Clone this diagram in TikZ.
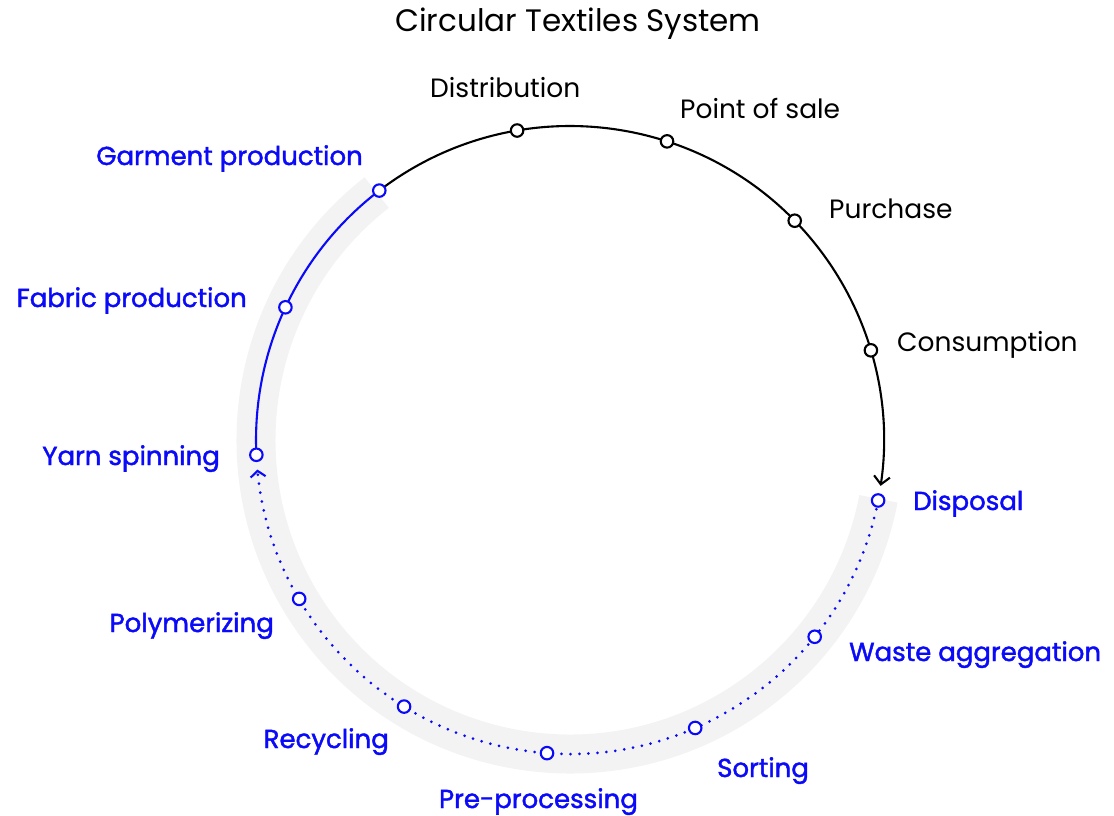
\documentclass[tikz,border=0pt]{standalone}
\usepackage{fontspec}
\setmainfont{Poppins}
\newfontfamily\medfont{Poppins}[FakeBold=1.6]
\usetikzlibrary{arrows.meta}
\definecolor{myblue}{RGB}{10,10,248}
\definecolor{bandgray}{RGB}{243,243,243}
\begin{document}
\begin{tikzpicture}[x=1pt,y=1pt,
  dotb/.style={circle,draw=black,fill=white,line width=2.1pt,minimum size=12.5pt,inner sep=0pt},
  dotu/.style={dotb,draw=myblue},
  lblk/.style={inner sep=0pt,text=black,font=\fontsize{26.5}{30}\selectfont},
  lblu/.style={inner sep=0pt,text=myblue,font=\medfont\fontsize{26}{30}\selectfont},
  ttl/.style={inner sep=0pt,text=black,font=\fontsize{31}{34}\selectfont},
  band/.style={line width=39pt,draw=bandgray},
  ring/.style={line width=2.1pt},
  dotline/.style={myblue,line width=3pt,dash pattern=on 0pt off 9pt,line cap=round}]
\useasboundingbox (0,0) rectangle (1114,-815);
\coordinate (C) at (570,-440);
% grey band
\draw[band] (C) ++(128:314) arc[start angle=128,end angle=349.2,radius=314];
% station positions
\path (C) ++(127.4:314) coordinate (pgarment);
\path (C) ++(99.7:314) coordinate (pdistribution);
\path (C) ++(72.0:314) coordinate (psale);
\path (C) ++(44.3:314) coordinate (ppurchase);
\path (C) ++(16.6:314) coordinate (pconsumption);
\path (C) ++(-11.1:314) coordinate (pdisposal);
\path (C) ++(-38.8:314) coordinate (pwaste);
\path (C) ++(-66.5:314) coordinate (psorting);
\path (C) ++(-94.2:314) coordinate (ppre);
\path (C) ++(-121.9:314) coordinate (precycling);
\path (C) ++(-149.6:314) coordinate (ppoly);
\path (C) ++(182.7:314) coordinate (pyarn);
\path (C) ++(155.0:314) coordinate (pfabric);
% connectors
\draw[ring,-{Straight Barb[length=8pt,width=16pt]}] (pgarment) arc[start angle=127.4,end angle=-8.4,radius=314];
\draw[ring,myblue] (pyarn) arc[start angle=182.7,end angle=127.4,radius=314];
\draw[dotline,-{Straight Barb[length=6pt,width=15pt,line width=2.1pt]}] (pdisposal) arc[start angle=-11.1,end angle=-174.6,radius=314];
% dots
\node[dotu] (garment) at (pgarment) {};
\node[dotb] (distribution) at (pdistribution) {};
\node[dotb] (sale) at (psale) {};
\node[dotb] (purchase) at (ppurchase) {};
\node[dotb] (consumption) at (pconsumption) {};
\node[dotu] (disposal) at (pdisposal) {};
\node[dotu] (waste) at (pwaste) {};
\node[dotu] (sorting) at (psorting) {};
\node[dotu] (pre) at (ppre) {};
\node[dotu] (recycling) at (precycling) {};
\node[dotu] (poly) at (ppoly) {};
\node[dotu] (yarn) at (pyarn) {};
\node[dotu] (fabric) at (pfabric) {};
% labels
\node[ttl,anchor=base] (title) at (578,-31) {Circular Textiles System};
\node[lblk,anchor=base west] (ldistribution) at (430,-97) {Distribution};
\node[lblk,anchor=base west] (lsale) at (680,-118) {Point of sale};
\node[lblk,anchor=base west] (lpurchase) at (829,-218) {Purchase};
\node[lblk,anchor=base west] (lconsumption) at (897,-351) {Consumption};
\node[lblu,anchor=base west] (ldisposal) at (913,-510) {Disposal};
\node[lblu,anchor=base west] (lwaste) at (849,-661) {Waste aggregation};
\node[lblu,anchor=base west] (lsorting) at (717,-777) {Sorting};
\node[lblu,anchor=base] (lpre) at (538.5,-808) {Pre-processing};
\node[lblu,anchor=base east] (lrecycling) at (389,-748) {Recycling};
\node[lblu,anchor=base east] (lpoly) at (274,-632) {Polymerizing};
\node[lblu,anchor=base east] (lyarn) at (220,-465) {Yarn spinning};
\node[lblu,anchor=base east] (lfabric) at (247,-307) {Fabric production};
\node[lblu,anchor=base east] (lgarment) at (363,-165) {Garment production};
\end{tikzpicture}
\end{document}
